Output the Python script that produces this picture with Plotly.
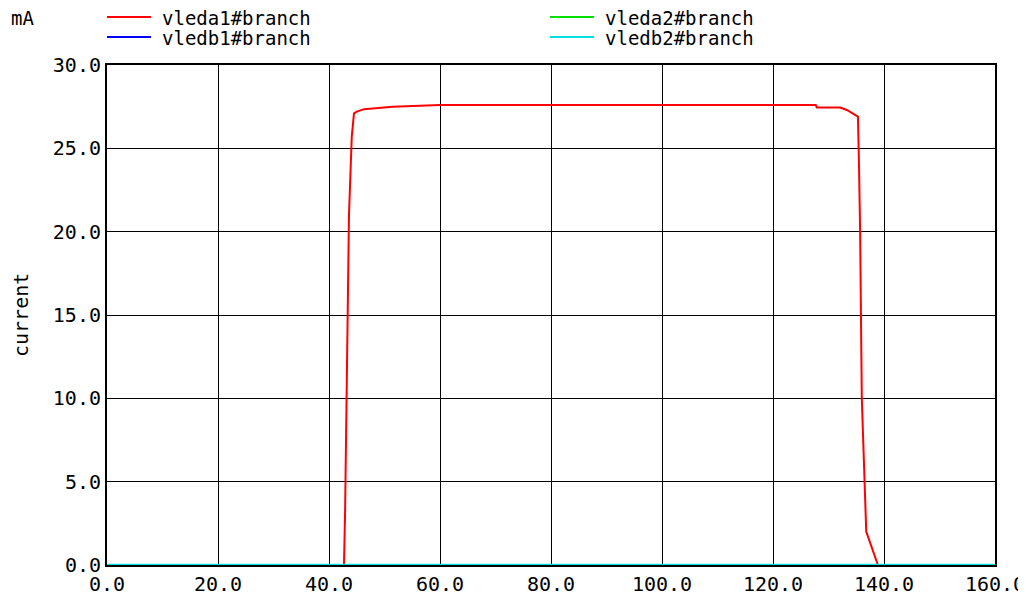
import plotly.graph_objects as go

# time axis (units as on chart) and currents in mA
t_a1 = [0.0, 42.7, 42.9, 43.1, 43.4, 43.6, 44.1, 44.5, 45.0, 46.3, 51.5, 60.0,
        100.0, 127.7, 127.9, 132.1, 133.3, 134.4, 135.3, 135.5, 135.7, 136.0,
        136.8, 138.9, 160.0]
i_a1 = [0.0, 0.0, 3.2, 9.3, 15.3, 21.0, 25.7, 27.1, 27.2, 27.35, 27.5, 27.6,
        27.6, 27.6, 27.45, 27.45, 27.3, 27.1, 26.9, 23.9, 20.0, 10.0,
        2.0, 0.0, 0.0]
t_zero = [0.0, 160.0]
i_zero = [0.0, 0.0]

series_names = ["vleda1#branch", "vleda2#branch", "vledb1#branch", "vledb2#branch"]
series_colors = ["#ff0000", "#00e000", "#0000ff", "#00e0e0"]

x_ticks = [0, 20, 40, 60, 80, 100, 120, 140, 160]
y_ticks = [0, 5, 10, 15, 20, 25, 30]

FONT = "DejaVu Sans Mono"

fig = go.Figure()
fig.add_trace(go.Scatter(x=t_a1, y=i_a1, mode="lines", name=series_names[0],
                         line=dict(color=series_colors[0], width=2), showlegend=False,
                         cliponaxis=False))
fig.add_trace(go.Scatter(x=t_zero, y=i_zero, mode="lines", name=series_names[1],
                         line=dict(color=series_colors[1], width=2), showlegend=False,
                         cliponaxis=False))
fig.add_trace(go.Scatter(x=t_zero, y=i_zero, mode="lines", name=series_names[2],
                         line=dict(color=series_colors[2], width=2), showlegend=False,
                         cliponaxis=False))
fig.add_trace(go.Scatter(x=t_zero, y=i_zero, mode="lines", name=series_names[3],
                         line=dict(color=series_colors[3], width=2.5), showlegend=False,
                         cliponaxis=False))

W, H = 1026, 597
OFF = 8  # page body margin offsets the figure in the window
# plot area in window pixels: x 107..995, y 65..565
L, T = 107 - OFF, 65 - OFF
R = W - (995 - OFF)
B = H - (565 - OFF)
pw, ph = 995 - 107, 565 - 65

def px(p):  # window pixel -> paper x
    return (p - 107) / pw

def py(q):  # window pixel -> paper y
    return (565 - q) / ph

# legend drawn manually as in the original plot
legend_pos = [(107, 17, 0), (550, 17, 1), (107, 37, 2), (550, 37, 3)]
shapes = []
annotations = []
for lx, ly, k in legend_pos:
    shapes.append(dict(type="line", xref="paper", yref="paper",
                       x0=px(lx), x1=px(lx + 44), y0=py(ly), y1=py(ly),
                       line=dict(color=series_colors[k], width=2)))
    annotations.append(dict(xref="paper", yref="paper", x=px(lx + 53), y=py(ly + 1),
                            text=series_names[k], showarrow=False, xanchor="left",
                            yanchor="middle", font=dict(family=FONT, size=19, color="black")))
annotations.append(dict(xref="paper", yref="paper", x=px(9), y=py(18), text="mA",
                        showarrow=False, xanchor="left", yanchor="middle",
                        font=dict(family=FONT, size=19, color="black")))
annotations.append(dict(xref="paper", yref="paper", x=px(21), y=py(315), text="current",
                        showarrow=False, xanchor="center", yanchor="middle", textangle=-90,
                        font=dict(family=FONT, size=20, color="black")))

fig.update_layout(
    width=W, height=H,
    margin=dict(l=L, r=R, t=T, b=B),
    paper_bgcolor="white", plot_bgcolor="white",
    shapes=shapes, annotations=annotations,
    font=dict(family=FONT, color="black"),
    xaxis=dict(range=[0, 160], tickvals=x_ticks, ticktext=[f"{v:.1f}" for v in x_ticks],
               showgrid=True, gridcolor="black", gridwidth=1, zeroline=False,
               showline=True, linecolor="black", linewidth=2, mirror=True,
               ticks="", tickfont=dict(family=FONT, size=20, color="black"),
               layer="below traces", automargin=False),
    yaxis=dict(range=[0, 30], tickvals=y_ticks, ticktext=[f"{v:.1f}" for v in y_ticks],
               showgrid=True, gridcolor="black", gridwidth=1, zeroline=False,
               showline=True, linecolor="black", linewidth=2, mirror=True,
               ticks="", tickfont=dict(family=FONT, size=20, color="black"),
               layer="below traces", automargin=False),
)

fig.write_html("out.html")
